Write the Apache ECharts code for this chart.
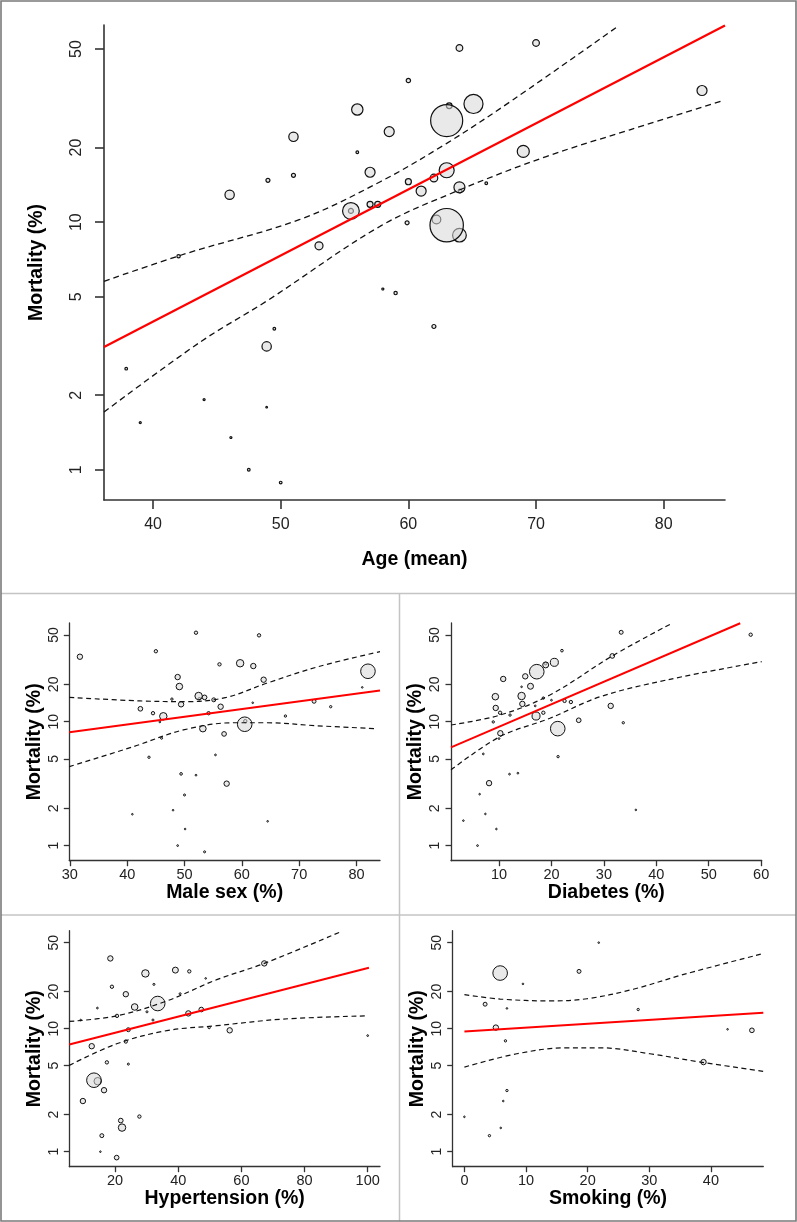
<!DOCTYPE html>
<html>
<head>
<meta charset="utf-8">
<script src="https://cdn.jsdelivr.net/npm/echarts@6/dist/echarts.min.js"></script>
<style>
html,body{margin:0;padding:0;background:#fff;}
#c{width:797px;height:1222px;}
</style>
</head>
<body>
<div id="c"></div>
<script>
// ---------- tick labels ----------
const mortalityTicks = [1, 2, 5, 10, 20, 50];
const ageTicks = [40, 50, 60, 70, 80];
const maleTicks = [30, 40, 50, 60, 70, 80];
const diabTicks = [10, 20, 30, 40, 50, 60];
const htnTicks = [20, 40, 60, 80, 100];
const smokeTicks = [0, 10, 20, 30, 40];

// ---------- Age (mean) ----------
const ageX = [42.0, 46.0, 49.0, 51.0, 51.0, 53.0, 55.5, 55.5, 56.0, 56.0, 57.0, 57.0, 57.6, 58.5, 58.0,
  59.0, 64.0, 70.0, 60.0, 63.0, 63.2, 65.1, 83.0, 69.0, 63.0, 62.0, 60.0, 61.0, 64.0, 64.05,
  66.1, 59.9, 63.0, 62.2, 64.0, 62.0, 37.9, 39.0, 44.0, 46.1, 47.5, 50.0, 48.9, 48.9, 49.5];
const ageMort = [7.28, 12.9, 14.75, 22.1, 15.45, 8.02, 11.1, 11.1, 19.15, 28.5, 15.9, 11.8, 11.8, 23.2, 5.37,
  5.17, 50.5, 52.9, 37.3, 25.7, 29.5, 30.0, 34.0, 19.3, 16.2, 15.07, 14.56, 13.35, 13.82, 13.35,
  14.35, 9.94, 9.72, 10.25, 8.86, 3.79, 2.56, 1.55, 1.92, 1.35, 1.0, 0.888, 1.79, 3.15, 3.71];
const ageWeight = [10, 28, 12, 28, 12, 24, 50, 15, 8, 34, 30, 18, 18, 30, 6,
  10, 20, 20, 13, 96, 17, 57, 30, 36, 45, 23, 18, 30, 33, 11,
  8, 12, 100, 26, 41, 12, 8, 6, 6, 6, 8, 8, 5, 28, 8];
const ageFitX = [36.16, 84.8];
const ageFitMort = [3.13, 62.2];
const ageUpperX = [36.16, 42.6, 51.5, 57.8, 63.0, 68.2, 76.5];
const ageUpperMort = [5.77, 7.47, 10.25, 14.56, 20.8, 31.2, 62.2];
const ageLowerX = [36.16, 43.7, 48.9, 57.8, 64.0, 70.8, 77.35, 84.7];
const ageLowerMort = [1.71, 3.28, 4.8, 9.63, 13.48, 18.4, 23.6, 31.0];

// ---------- Male sex (%) ----------
const maleX = [31.75, 52.0, 63.0, 45.0, 56.1, 59.7, 62.0, 82.0, 48.8, 63.8, 49.1, 81.0, 52.46, 53.5, 52.6,
  47.8, 55.1, 49.4, 56.3, 42.3, 72.6, 75.5, 61.9, 44.5, 54.2, 46.3, 67.6, 45.7, 60.5, 60.6,
  53.2, 56.9, 46.0, 43.8, 55.4, 49.4, 52.0, 57.35, 50.0, 48.0, 40.9, 64.5, 50.1, 48.8, 53.5];
const maleMort = [33.4, 52.2, 49.7, 37.0, 29.0, 29.6, 28.1, 25.5, 22.9, 21.8, 19.2, 18.9, 16.1, 15.7, 15.3,
  15.2, 15.0, 13.8, 13.2, 12.7, 14.6, 13.2, 14.2, 11.7, 11.7, 11.05, 11.1, 9.95, 9.53, 10.1,
  8.78, 7.96, 7.35, 5.16, 5.39, 3.79, 3.70, 3.16, 2.56, 1.93, 1.79, 1.57, 1.36, 1.0, 0.89];
const maleWeight = [37, 23, 23, 23, 23, 51, 37, 100, 37, 37, 45, 11, 51, 32, 18,
  16, 27, 37, 37, 32, 27, 16, 11, 23, 23, 51, 16, 12, 100, 23,
  45, 32, 14, 16, 12, 18, 12, 37, 14, 10, 10, 10, 10, 12, 14];
const maleFitX = [29.9, 84.1];
const maleFitMort = [8.2, 17.8];
const maleUpperX = [29.9, 42.2, 50.4, 57.3, 64.3, 73.6, 84.1];
const maleUpperMort = [15.7, 14.7, 14.5, 15.7, 20.4, 28.0, 36.7];
const maleLowerX = [29.9, 41.1, 49.8, 58.5, 64.3, 73.0, 83.5];
const maleLowerMort = [4.34, 6.29, 8.57, 9.8, 9.8, 9.27, 8.78];

// ---------- Diabetes (%) ----------
const diabX = [33.3, 58.0, 22.0, 31.6, 20.55, 18.9, 18.9, 17.2, 15.0, 10.8, 16.0, 14.3, 9.3, 14.3, 18.45,
  20.0, 22.5, 23.7, 14.45, 16.9, 31.3, 9.37, 10.2, 18.45, 12.1, 17.06, 25.2, 8.9, 21.2, 33.7,
  10.25, 10.0, 7.0, 21.26, 12.0, 13.6, 8.1, 6.3, 7.4, 36.1, 3.2, 9.5, 5.9];
const diabMort = [52.6, 50.3, 37.4, 33.9, 30.1, 28.7, 29.4, 25.3, 23.2, 22.1, 19.3, 19.1, 15.9, 16.1, 15.5,
  14.9, 14.7, 14.4, 13.9, 13.4, 13.4, 12.9, 11.8, 11.8, 11.3, 11.1, 10.26, 9.95, 8.78, 9.8,
  8.06, 7.3, 5.49, 5.22, 3.77, 3.84, 3.19, 2.6, 1.8, 1.94, 1.59, 1.36, 1.0];
const diabWeight = [27, 23, 18, 32, 55, 41, 18, 100, 37, 37, 41, 11, 45, 51, 16,
  12, 23, 23, 37, 12, 37, 37, 23, 23, 16, 55, 32, 16, 100, 16,
  37, 12, 12, 16, 12, 12, 37, 11, 10, 10, 10, 10, 12];
const diabFitX = [0.84, 56.0];
const diabFitMort = [6.2, 62.2];
const diabUpperX = [0.84, 10.2, 19.7, 31.6, 43.0];
const diabUpperMort = [9.4, 11.3, 16.4, 33.9, 62.2];
const diabLowerX = [0.84, 10.2, 19.7, 29.3, 42.0, 60.1];
const diabLowerMort = [4.08, 7.57, 10.65, 15.9, 21.7, 30.5];

// ---------- Hypertension (%) ----------
const htnX = [18.5, 67.25, 29.6, 39.1, 43.5, 48.7, 32.3, 19.0, 40.6, 23.4, 33.5, 26.2, 14.4, 47.3, 43.2,
  20.6, 30.1, 32.0, 24.2, 49.8, 56.3, 100.0, 23.4, 12.6, 17.4, 24.2, 13.3, 14.5, 16.5, 9.8,
  27.7, 21.8, 22.2, 15.8, 15.35, 20.5, 9.1];
const htnMort = [37.2, 33.9, 28.1, 29.9, 29.2, 25.6, 22.9, 21.9, 19.2, 19.05, 16.0, 15.0, 14.7, 14.3, 13.3,
  12.7, 13.7, 11.75, 9.8, 10.2, 9.69, 8.78, 7.86, 7.2, 5.32, 5.15, 3.81, 3.74, 3.16, 2.58,
  1.93, 1.79, 1.57, 1.35, 1.0, 0.895, 11.75];
const htnWeight = [37, 37, 51, 41, 23, 11, 14, 23, 14, 37, 100, 45, 12, 32, 37,
  23, 14, 14, 27, 16, 37, 12, 23, 37, 23, 14, 100, 51, 37, 37,
  23, 32, 51, 27, 8, 32, 11];
const htnFitX = [5.5, 100.4];
const htnFitMort = [7.43, 31.2];
const htnUpperX = [5.5, 20.5, 36.4, 52.2, 67.25, 91.2];
const htnUpperMort = [11.45, 12.7, 16.8, 25.0, 33.9, 60.9];
const htnLowerX = [5.5, 20.5, 36.4, 52.2, 73.3, 99.7];
const htnLowerMort = [5.03, 7.53, 9.64, 10.57, 11.97, 12.7];

// ---------- Smoking (%) ----------
const smokeX = [21.8, 5.8, 18.6, 9.5, 3.36, 6.9, 28.2, 5.1, 42.7, 46.65, 6.66, 38.8, 6.9, 6.3, 0.0, 5.9, 4.06];
const smokeMort = [50.0, 28.3, 29.2, 23.1, 15.8, 14.6, 14.3, 10.2, 9.88, 9.69, 7.96, 5.35, 3.14, 2.58, 1.92, 1.56, 1.35];
const smokeWeight = [11, 100, 27, 11, 27, 11, 16, 37, 8, 32, 16, 37, 16, 8, 11, 8, 16];
const smokeFitX = [0.0, 48.5];
const smokeFitMort = [9.46, 13.46];
const smokeUpperX = [0.0, 5.8, 13.9, 19.9, 27.4, 35.6, 48.5];
const smokeUpperMort = [18.9, 17.4, 16.8, 17.5, 20.9, 27.6, 40.8];
const smokeLowerX = [0.0, 8.5, 16.6, 22.0, 30.1, 38.3, 48.5];
const smokeLowerMort = [4.87, 6.25, 6.99, 6.99, 6.25, 5.35, 4.5];

// ---------- build ----------
const FONT = "'Liberation Sans', Arial, Helvetica, sans-serif";
const L = Math.log10;
const yMin = -0.122, yMax = 1.796;

const panels = [
  {name:'Age (mean)', x:ageX, m:ageMort, w:ageWeight, fx:ageFitX, fm:ageFitMort, ux:ageUpperX, um:ageUpperMort, lx:ageLowerX, lm:ageLowerMort,
   ticks:ageTicks, xMin:36.16, xMax:84.8, grid:{left:104, top:25, width:621, height:475}, big:true},
  {name:'Male sex (%)', x:maleX, m:maleMort, w:maleWeight, fx:maleFitX, fm:maleFitMort, ux:maleUpperX, um:maleUpperMort, lx:maleLowerX, lm:maleLowerMort,
   ticks:maleTicks, xMin:29.9, xMax:84.1, grid:{left:69.3, top:623, width:310.7, height:237.7}},
  {name:'Diabetes (%)', x:diabX, m:diabMort, w:diabWeight, fx:diabFitX, fm:diabFitMort, ux:diabUpperX, um:diabUpperMort, lx:diabLowerX, lm:diabLowerMort,
   ticks:diabTicks, xMin:0.84, xMax:60.1, grid:{left:451, top:623, width:310.7, height:237.7}},
  {name:'Hypertension (%)', x:htnX, m:htnMort, w:htnWeight, fx:htnFitX, fm:htnFitMort, ux:htnUpperX, um:htnUpperMort, lx:htnLowerX, lm:htnLowerMort,
   ticks:htnTicks, xMin:5.5, xMax:103.9, grid:{left:69.3, top:930.7, width:310.7, height:236}},
  {name:'Smoking (%)', x:smokeX, m:smokeMort, w:smokeWeight, fx:smokeFitX, fm:smokeFitMort, ux:smokeUpperX, um:smokeUpperMort, lx:smokeLowerX, lm:smokeLowerMort,
   ticks:smokeTicks, xMin:-1.9, xMax:48.5, grid:{left:452.7, top:930.7, width:310.6, height:236}}
];

const grids = [], xAxes = [], yAxes = [], series = [];
panels.forEach((p, i) => {
  const big = !!p.big;
  grids.push(Object.assign({containLabel:false, outerBoundsMode:'none'}, p.grid));
  const axisLineStyle = {color:'#333', width: big ? 1.6 : 1.3};
  xAxes.push({
    type:'value', gridIndex:i, min:p.xMin, max:p.xMax,
    name:p.name, nameLocation:'middle', nameGap: big ? 50 : 22, nameMoveOverlap:false,
    nameTextStyle:{fontFamily:FONT, fontWeight:'bold', fontSize:19.5, color:'#000'},
    axisLine:{show:true, onZero:false, lineStyle:axisLineStyle},
    axisTick:{show:true, inside:false, length: big ? 9 : 5.5, customValues:p.ticks, lineStyle:axisLineStyle},
    axisLabel:{show:true, customValues:p.ticks, margin: big ? 17 : 7, fontSize: big ? 16 : 14.5, color:'#222', fontFamily:FONT,
      formatter: v => String(Math.round(v))},
    splitLine:{show:false}
  });
  const yt = mortalityTicks.map(L);
  yAxes.push({
    type:'value', gridIndex:i, min:yMin, max:yMax, position:'left',
    name:'Mortality (%)', nameLocation:'middle', nameGap: big ? 57 : 25, nameRotate:90, nameMoveOverlap:false,
    nameTextStyle:{fontFamily:FONT, fontWeight:'bold', fontSize:19.5, color:'#000'},
    axisLine:{show:true, onZero:false, lineStyle:axisLineStyle},
    axisTick:{show:true, inside:false, length: big ? 9 : 5.5, customValues:yt, lineStyle:axisLineStyle},
    axisLabel:{show:true, customValues:yt, rotate:90, margin: big ? 19 : 8.5, fontSize: big ? 16 : 14, color:'#222', fontFamily:FONT,
      formatter: v => String(Math.round(Math.pow(10, v)))},
    splitLine:{show:false}
  });
  const maxR = big ? 16.7 : 7.3;
  const pts = p.x.map((x, j) => [x, L(p.m[j]), p.w[j]]).sort((a, b) => a[2] - b[2]);
  series.push({
    type:'scatter', xAxisIndex:i, yAxisIndex:i, data:pts, silent:true,
    symbol:'circle',
    symbolSize: v => Math.max(1.6, 2 * maxR * v[2] / 100),
    itemStyle:{color:'rgba(215,215,215,0.55)', borderColor:'#111', borderWidth: big ? 1.2 : 1.0, opacity:1},
    emphasis:{disabled:true}, z:3
  });
  series.push({
    type:'line', xAxisIndex:i, yAxisIndex:i, silent:true, symbol:'none', clip:true,
    data:p.fx.map((x, j) => [x, L(p.fm[j])]),
    lineStyle:{color:'#ff0000', width: big ? 2.2 : 2}, z:5
  });
  [[p.ux, p.um], [p.lx, p.lm]].forEach(([xs, ms]) => {
    series.push({
      type:'line', xAxisIndex:i, yAxisIndex:i, silent:true, symbol:'none', clip:true, smooth:0.35,
      data:xs.map((x, j) => [x, L(ms[j])]),
      lineStyle:{color:'#111', width: big ? 1.3 : 1.2, type: big ? [6, 4] : [5, 3.5]}, z:4
    });
  });
});

const chart = echarts.init(document.getElementById('c'), null, {renderer:'canvas'});
chart.setOption({
  backgroundColor:'#fff',
  animation:false,
  grid:grids, xAxis:xAxes, yAxis:yAxes, series:series,
  graphic:[
    {type:'line', shape:{x1:1, y1:593.5, x2:796, y2:593.5}, style:{stroke:'#c4c4c4', lineWidth:1.5}, silent:true},
    {type:'line', shape:{x1:1, y1:915, x2:796, y2:915}, style:{stroke:'#c4c4c4', lineWidth:1.5}, silent:true},
    {type:'line', shape:{x1:399.5, y1:593.5, x2:399.5, y2:1221}, style:{stroke:'#c4c4c4', lineWidth:1.5}, silent:true},
    {type:'rect', shape:{x:1, y:1, width:795, height:1220}, style:{fill:'none', stroke:'#7a7a7a', lineWidth:1.6}, silent:true}
  ]
});
</script>
</body>
</html>
